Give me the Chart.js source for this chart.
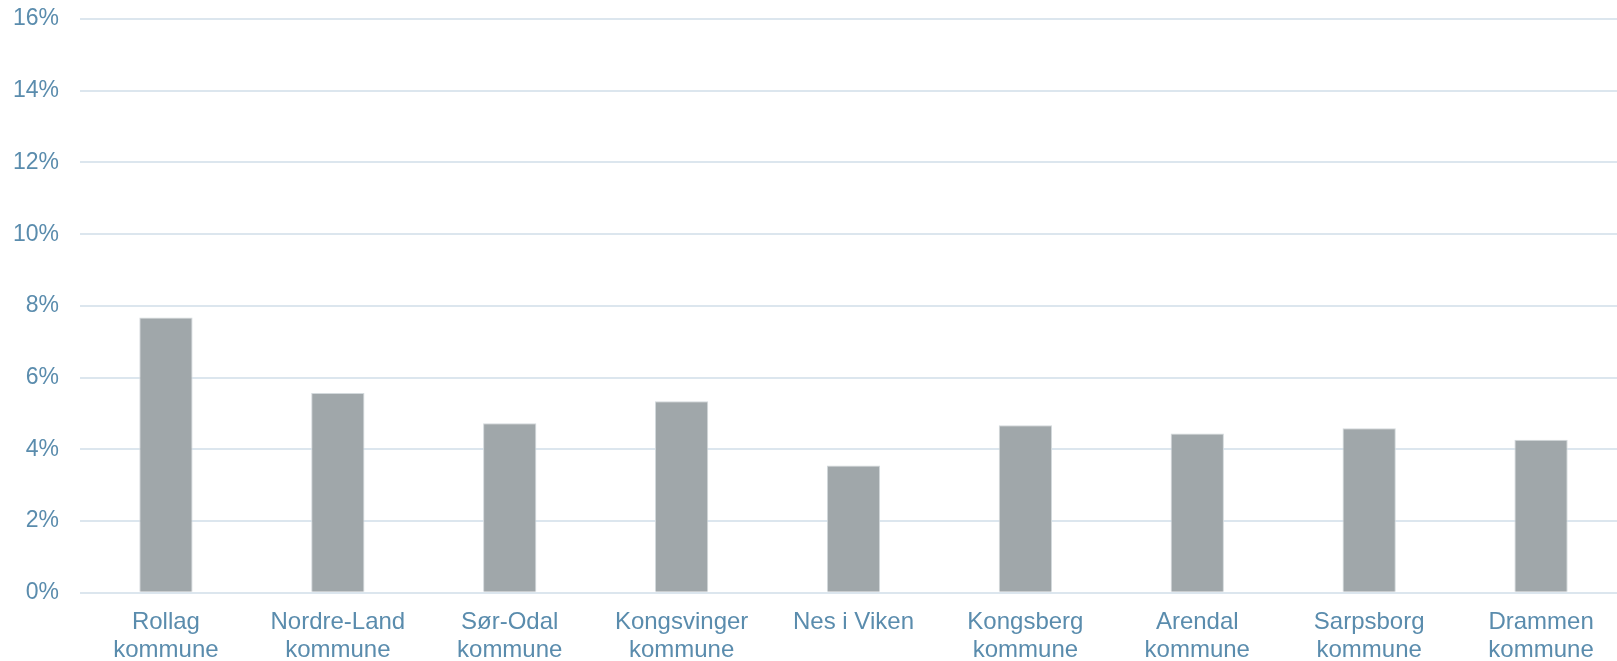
<!DOCTYPE html>
<html>
<head>
<meta charset="utf-8">
<script src="https://cdn.jsdelivr.net/npm/chart.js@4/dist/chart.umd.min.js"></script>
<style>
  html, body { margin: 0; padding: 0; background: #fff; overflow: hidden; }
  #wrap { position: relative; width: 1627px; height: 680px; }
</style>
</head>
<body>
<div id="wrap"><canvas id="chart"></canvas></div>
<script>
var kommuner = [
	["Rollag", "kommune"],
	["Nordre-Land", "kommune"],
	["Sør-Odal", "kommune"],
	["Kongsvinger", "kommune"],
	"Nes i Viken",
	["Kongsberg", "kommune"],
	["Arendal", "kommune"],
	["Sarpsborg", "kommune"],
	["Drammen", "kommune"]
];
var andel = [7.68, 5.57, 4.73, 5.34, 3.55, 4.67, 4.44, 4.59, 4.27];
var yTicks = [0, 2, 4, 6, 8, 10, 12, 14, 16];

var textColor = "#5a8cad";
var gridColor = "#dce6ee";

Chart.defaults.font.family = "'Liberation Sans', Arial, sans-serif";

var ctx = document.getElementById('chart').getContext('2d');
var chart = new Chart(ctx, {
	type: 'bar',
	data: {
		labels: kommuner,
		datasets: [
			{
				data: andel,
				backgroundColor: "#a0a7aa",
				borderColor: "#d3d9dc",
				borderWidth: 1,
				categoryPercentage: 1,
				barPercentage: 0.31
			}
		]
	},
	options: {
		responsive: true,
		maintainAspectRatio: false,
		animation: false,
		layout: { padding: { top: 19, left: 0, right: 0, bottom: 0 } },
		plugins: {
			legend: { display: false },
			tooltip: { enabled: false }
		},
		scales: {
			x: {
				grid: { display: false, drawTicks: false },
				border: { display: false },
				ticks: {
					color: textColor,
					font: { size: 24, lineHeight: 1.15 },
					padding: 16,
					maxRotation: 0,
					autoSkip: false
				}
			},
			y: {
				min: 0,
				max: 16,
				afterBuildTicks: function (scale) {
					scale.ticks = yTicks.map(function (v) { return { value: v }; });
				},
				afterFit: function (scale) {
					scale.width = 80;
					scale.paddingTop = 0;
					scale.paddingBottom = 0;
				},
				grid: { color: gridColor, lineWidth: 2, drawTicks: false },
				border: { display: false },
				ticks: {
					color: textColor,
					font: { size: 23 },
					padding: 21,
					callback: function (v) { return v + "%"; }
				}
			}
		}
	}
});
</script>
</body>
</html>
